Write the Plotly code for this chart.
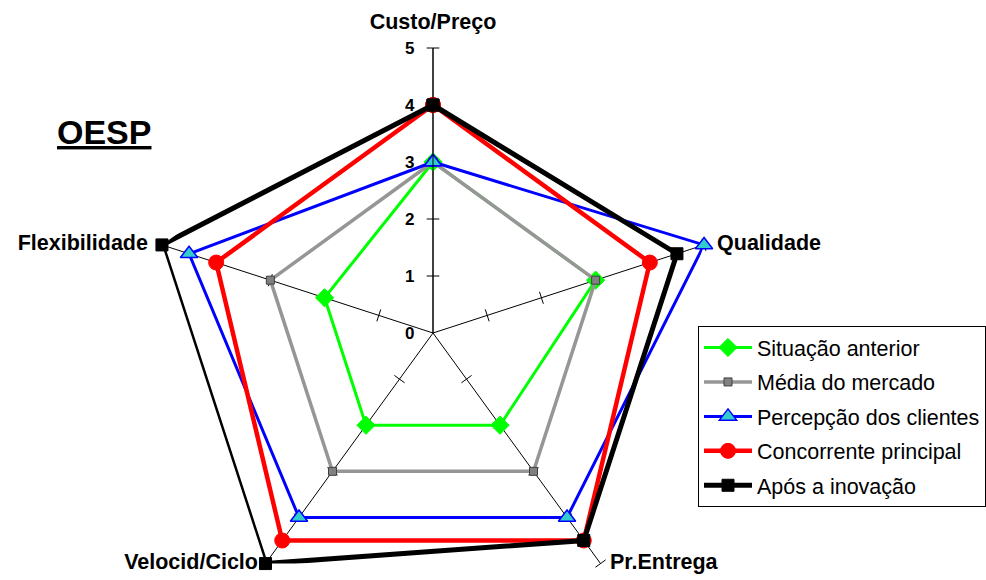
import plotly.graph_objects as go

categories = ["Custo/Preço", "Qualidade", "Pr.Entrega", "Velocid/Ciclo", "Flexibilidade"]
situacao_anterior = [3, 3, 2, 2, 2]
media_mercado = [3, 3, 3, 3, 3]
percepcao_clientes = [3, 5, 4, 4, 4.5]
concorrente_principal = [4, 4, 4.5, 4.5, 4]
apos_inovacao = [4, 4.5, 4.5, 5, 5]
radial_ticks = [0, 1, 2, 3, 4, 5]
series_names = ["Situação anterior", "Média do mercado", "Percepção dos clientes",
                "Concorrente principal", "Após a inovação"]
title_text = "OESP"

# ---- styling / layout constants ----
FONT = "Liberation Sans, Arial, sans-serif"
W, H = 986, 620          # canvas slightly taller than the window so the full pentagon fits
label_positions = ["top center", "middle right", "middle right", "middle left", "middle left"]
label_offsets = [20.2, 19.2, 13.6, 10.4, 20.8]   # invisible marker sizes used as text standoff

def closed(vals):
    return list(vals) + [vals[0]]

theta_closed = closed(categories)
rmax = radial_ticks[-1]

fig = go.Figure()

# cross ticks on each spoke
tick_r, tick_theta, tick_angle = [], [], []
for i, c in enumerate(categories):
    for t in radial_ticks[1:]:
        tick_r.append(t)
        tick_theta.append(c)
        tick_angle.append(i * 360 / len(categories))
fig.add_trace(go.Scatterpolar(
    r=tick_r, theta=tick_theta, mode="markers",
    marker=dict(symbol="line-ew", size=9, angle=tick_angle,
                line=dict(color="black", width=1)),
    showlegend=False, hoverinfo="skip", cliponaxis=False))

styles = [
    dict(line=dict(color="#00FF00", width=3),
         marker=dict(symbol="diamond", size=14, color="#00FF00",
                     line=dict(color="#00FF00", width=1))),
    dict(line=dict(color="#969696", width=3.5),
         marker=dict(symbol="square", size=8, color="#808080",
                     line=dict(color="#404040", width=1))),
    dict(line=dict(color="#0000FF", width=3),
         marker=dict(symbol="triangle-up", size=15, color="#33CCCC",
                     line=dict(color="#0000FF", width=1.5))),
    dict(line=dict(color="#FF0000", width=4.5),
         marker=dict(symbol="circle", size=15, color="#FF0000",
                     line=dict(color="#FF0000", width=1))),
    dict(line=dict(color="#000000", width=5),
         marker=dict(symbol="square", size=12, color="#000000",
                     line=dict(color="#000000", width=1))),
]
all_series = [situacao_anterior, media_mercado, percepcao_clientes,
              concorrente_principal, apos_inovacao]
for k, (name, vals, st) in enumerate(zip(series_names, all_series, styles)):
    fig.add_trace(go.Scatterpolar(
        r=closed(vals), theta=theta_closed, mode="lines+markers",
        name=name, legendgroup="g%d" % k, cliponaxis=False, **st))

# category labels at the end of each spoke
fig.add_trace(go.Scatterpolar(
    r=[rmax] * len(categories), theta=categories, mode="markers+text",
    text=categories, textposition=label_positions,
    textfont=dict(size=21.5, family=FONT, weight="bold", color="black"),
    marker=dict(size=label_offsets, color="rgba(0,0,0,0)", line=dict(width=0)),
    showlegend=False, hoverinfo="skip", cliponaxis=False))

fig.update_layout(
    width=W, height=H,
    margin=dict(l=0, r=0, t=0, b=0),
    paper_bgcolor="white",
    font=dict(family=FONT, color="black"),
    polar=dict(
        domain=dict(x=[148 / W, 718 / W], y=[(H - 618) / H, 1 - 48 / H]),
        gridshape="linear",
        bgcolor="white",
        angularaxis=dict(
            type="category", rotation=90, direction="clockwise",
            showline=False, showgrid=True, gridcolor="black", gridwidth=1,
            ticks="", showticklabels=False,
        ),
        radialaxis=dict(
            range=[0, rmax], tickvals=radial_ticks, angle=90, tickangle=90,
            side="counterclockwise", showgrid=False, showline=True,
            linecolor="black", linewidth=1,
            ticks="outside", ticklen=12, tickcolor="rgba(0,0,0,0)",
            tickfont=dict(size=17, family=FONT, weight="bold", color="black"),
        ),
    ),
    legend=dict(
        x=698 / W, y=1 - 326 / H, xanchor="left", yanchor="top",
        bordercolor="black", borderwidth=1, bgcolor="white",
        font=dict(size=21.5, family=FONT, color="black"),
        tracegroupgap=3.5, itemwidth=48,
    ),
    annotations=[dict(
        text="<u><b>" + title_text + "</b></u>", x=103.5 / W, y=1 - 132 / H,
        xref="paper", yref="paper", xanchor="center", yanchor="middle",
        showarrow=False,
        font=dict(size=34, family=FONT, color="black"),
    )],
)

fig.write_html("out.html")
